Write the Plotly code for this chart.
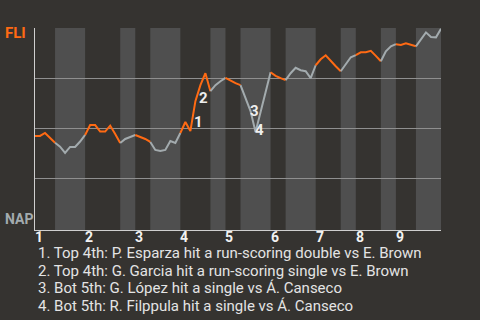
import plotly.graph_objects as go

# Win probability for FLI (percent) after each plate appearance
wp = [46.2, 46.2, 47.7, 45.2, 42.8, 40.8, 37.7, 40.7, 40.7, 43.4,
      46.7, 51.7, 51.7, 48.4, 48.4, 51.4, 47.2, 42.7, 44.7, 45.7,
      46.7, 45.7, 44.7, 43.2, 39.2, 38.7, 39.2, 43.7, 42.7, 47.7,
      53.2, 48.7, 63.7, 71.7, 77.7, 68.7, 71.7, 73.7, 75.4, 73.9,
      72.7, 71.7, 65.2, 58.7, 48.2, 57.7, 68.2, 78.2, 76.4, 75.2,
      74.2, 77.7, 80.4, 79.2, 78.7, 75.2, 81.7, 84.7, 86.7, 83.7,
      81.2, 78.7, 82.2, 85.7, 86.8, 88.2, 88.2, 88.9, 86.4, 83.7,
      88.7, 91.2, 92.3, 91.9, 92.7, 91.8, 91.2, 94.9, 98.2, 95.9,
      95.7, 100]
# plate-appearance index where each half inning starts/ends
half_bounds = [0, 4, 10, 17, 20, 23, 29, 35, 38, 41, 47, 50, 56, 61, 64, 69, 72, 76, 81]
inning_labels = ["1", "2", "3", "4", "5", "6", "7", "8", "9"]
team_top = "FLI"
team_bottom = "NAP"
event_marks = ["1", "2", "3", "4"]
event_mark_x = [32.6, 33.7, 43.7, 44.7]
event_mark_y = [53.3, 65.5, 58.6, 49.2]
event_texts = [
    "1. Top 4th: P. Esparza hit a run-scoring double vs E. Brown",
    "2. Top 4th: G. Garcia hit a run-scoring single vs E. Brown",
    "3. Bot 5th: G. López hit a single vs Á. Canseco",
    "4. Bot 5th: R. Filppula hit a single vs Á. Canseco",
]

BG = "#353330"
BAND = "#4f4f4f"
ORANGE = "#ff6a13"
GRAY = "#a3abae"
FONT = "Roboto"

fig = go.Figure()

shapes = []
for h in range(len(half_bounds) - 1):
    a, b = half_bounds[h], half_bounds[h + 1]
    if h % 2 == 1:
        shapes.append(dict(type="rect", xref="x", yref="paper", x0=a, x1=b, y0=0, y1=1,
                           fillcolor=BAND, line=dict(width=0), layer="below"))
    xs = list(range(a, b + 1))
    fig.add_trace(go.Scatter(x=xs, y=wp[a:b + 1], mode="lines",
                             line=dict(color=ORANGE if h % 2 == 0 else GRAY, width=2),
                             hoverinfo="skip", showlegend=False))

annotations = []
annotations.append(dict(text=team_top, xref="paper", yref="paper", x=-0.0796, y=0.974,
                        xanchor="left", yanchor="middle", showarrow=False,
                        font=dict(family=FONT, size=15, color=ORANGE, weight="bold")))
annotations.append(dict(text=team_bottom, xref="paper", yref="paper", x=-0.0796, y=0.053,
                        xanchor="left", yanchor="middle", showarrow=False,
                        font=dict(family=FONT, size=14, color=GRAY, weight="bold")))
for t, x, y in zip(event_marks, event_mark_x, event_mark_y):
    annotations.append(dict(text=t, x=x, y=y, xref="x", yref="y", showarrow=False,
                            xanchor="center", yanchor="middle",
                            font=dict(family=FONT, size=15, color="#eeeeee", weight="bold")))
# inning labels at the start of each inning
for lab, start in zip(inning_labels, half_bounds[0:18:2]):
    annotations.append(dict(text=lab, x=start, xref="x", yref="paper", y=-0.034,
                            xshift=4, xanchor="center", yanchor="middle", showarrow=False,
                            font=dict(family=FONT, size=14, color="#f2f2f2", weight="bold")))
for i, t in enumerate(event_texts):
    annotations.append(dict(text=t, xref="paper", yref="paper", x=0.0025,
                            y=-0.115 - i * 0.0867, xanchor="left", yanchor="middle",
                            showarrow=False,
                            font=dict(family=FONT, size=15, color="#e4e4e4")))

fig.update_layout(
    width=480, height=320,
    margin=dict(l=35, r=39, t=28, b=90),
    paper_bgcolor=BG, plot_bgcolor=BG,
    shapes=shapes, annotations=annotations,
    xaxis=dict(range=[0, 81], showgrid=False, zeroline=False,
               showline=True, linecolor="#cfcfcf", linewidth=1,
               showticklabels=False, ticks=""),
    yaxis=dict(range=[-1, 100.4], showgrid=True, gridcolor="#8f8f8f", gridwidth=1,
               tickvals=[25, 50, 75, 100], showticklabels=False, ticks="",
               zeroline=False, showline=True, linecolor="#cfcfcf", linewidth=1),
)

fig.write_html("out.html")
